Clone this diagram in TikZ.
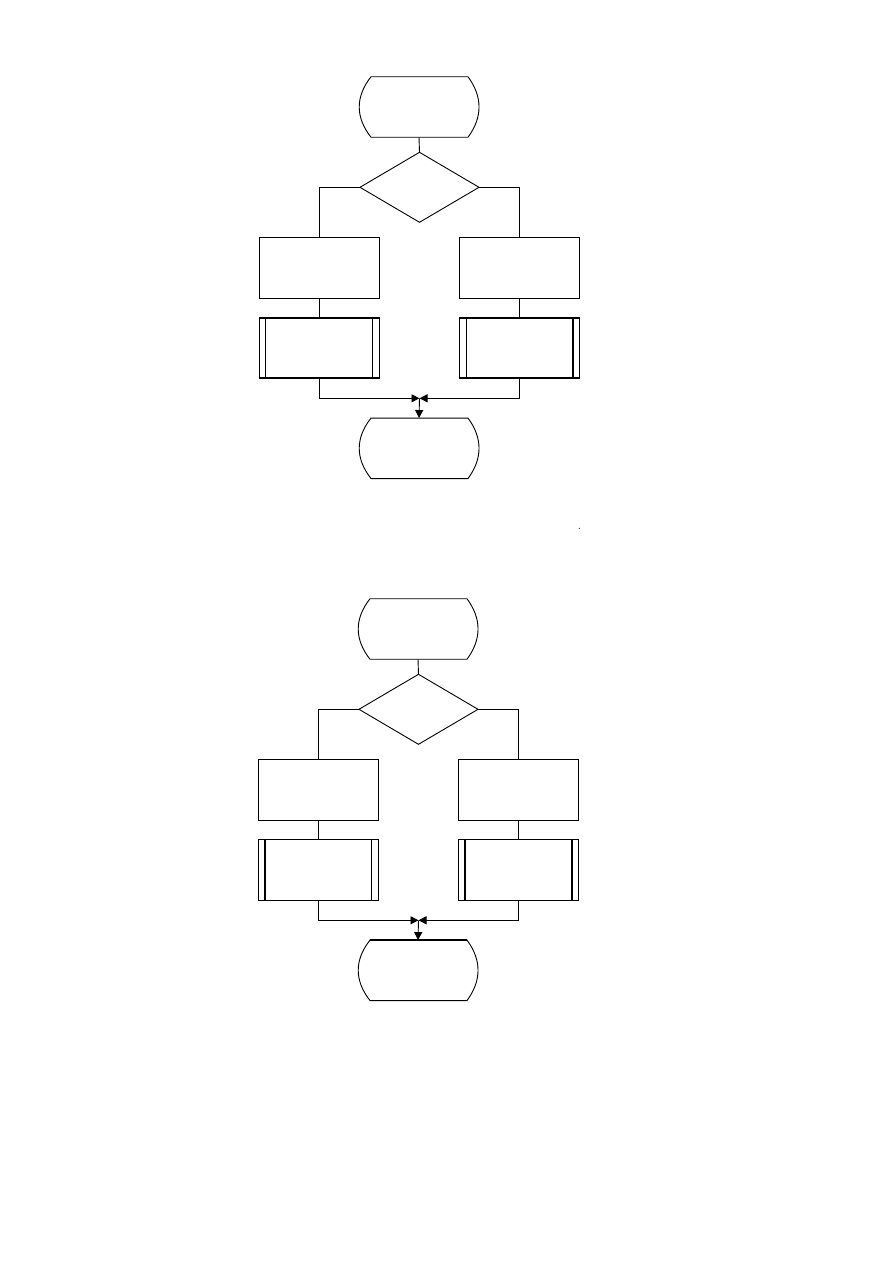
\documentclass[tikz,border=0pt]{standalone}
\usetikzlibrary{shapes.geometric,arrows.meta,calc}
\tikzset{
  conn/.style={draw, line width=0.9pt},
  arr/.style={draw, line width=0.9pt, -{Triangle[length=8pt,width=8pt]}},
  procbox/.style={rectangle, draw, line width=0.9pt, minimum width=120pt, minimum height=60.5pt, inner sep=0pt, outer sep=0pt},
  decide/.style={diamond, draw, line width=0.9pt, minimum width=119pt, minimum height=70pt, inner sep=0pt, outer sep=0pt},
  termnode/.style={rectangle, minimum width=120pt, minimum height=60.5pt, inner sep=0pt, outer sep=0pt},
  thick edge/.style={draw, line width=1.8pt},
}
\newcommand\termdraw[1]{%
  \draw[line width=0.9pt] ($(#1.north west)+(12,0)$) -- ($(#1.north east)+(-11,0)$)
    .. controls ($(#1.north east)+(3.7,20)$) and ($(#1.south east)+(3.7,-20)$) .. ($(#1.south east)+(-11,0)$)
    -- ($(#1.south west)+(12,0)$)
    .. controls ($(#1.south west)+(-3.7,-20)$) and ($(#1.north west)+(-3.7,20)$) .. cycle;}
\newcommand\predefdraw[1]{%
  \draw[line width=0.9pt] ($(#1.north west)+(6.5,0)$) -- ($(#1.south west)+(6.5,0)$);
  \draw[line width=0.9pt] ($(#1.north east)+(-6.5,0)$) -- ($(#1.south east)+(-6.5,0)$);}
\begin{document}
\begin{tikzpicture}[x=1pt,y=-1pt]
  \fill[white] (0,0) rectangle (892,1263);
  \useasboundingbox (0,0) rectangle (892,1263);
  \foreach \k/\dx/\dy in {1/0/0,2/-1/522}{
    \begin{scope}[shift={(\dx,\dy)}]
      \node[termnode] (s\k) at (419,107) {};
      \termdraw{s\k}
      \node[decide] (d\k) at (419.5,187.3) {};
      \node[procbox] (bl\k) at (319.3,267.8) {};
      \node[procbox] (br\k) at (519.5,267.8) {};
      \node[procbox] (pl\k) at (319.3,348) {};
      \predefdraw{pl\k}
      \node[procbox] (pr\k) at (519.5,348) {};
      \predefdraw{pr\k}
      \coordinate (m\k) at (419.5,398.3);
      \node[termnode] (e\k) at (419,448.3) {};
      \termdraw{e\k}
      \draw[conn] (s\k.south) -- (d\k.north);
      \draw[conn] (d\k.west) -| (bl\k.north);
      \draw[conn] (d\k.east) -| (br\k.north);
      \draw[conn] (bl\k.south) -- (pl\k.north);
      \draw[conn] (br\k.south) -- (pr\k.north);
      \draw[arr] (pl\k.south) |- (m\k);
      \draw[arr] (pr\k.south) |- (m\k);
      \draw[arr] (m\k) -- (e\k.north);
    \end{scope}
  }
  % heavier strokes as in the reference
  \draw[thick edge] (pl1.north west) -- (pl1.north east);
  \draw[thick edge] (pl1.south west) -- (pl1.south east);
  \draw[thick edge] (pr1.north west) -- (pr1.north east);
  \draw[thick edge] (pr1.south west) -- (pr1.south east);
  \draw[thick edge] ($(pr1.north east)+(-6.5,0)$) -- ($(pr1.south east)+(-6.5,0)$);
  \draw[thick edge] ($(pl2.north west)+(6.5,0)$) -- ($(pl2.south west)+(6.5,0)$);
  \draw[thick edge] ($(pr2.north west)+(6.5,0)$) -- ($(pr2.south west)+(6.5,0)$);
  \draw[thick edge] ($(pr2.north east)+(-6.5,0)$) -- ($(pr2.south east)+(-6.5,0)$);
  \draw[thick edge] ($(e2.north west)+(12,0)$) -- ($(e2.north east)+(-11,0)$);
  \fill (579.3,528.3) circle (0.6pt);
\end{tikzpicture}
\end{document}
